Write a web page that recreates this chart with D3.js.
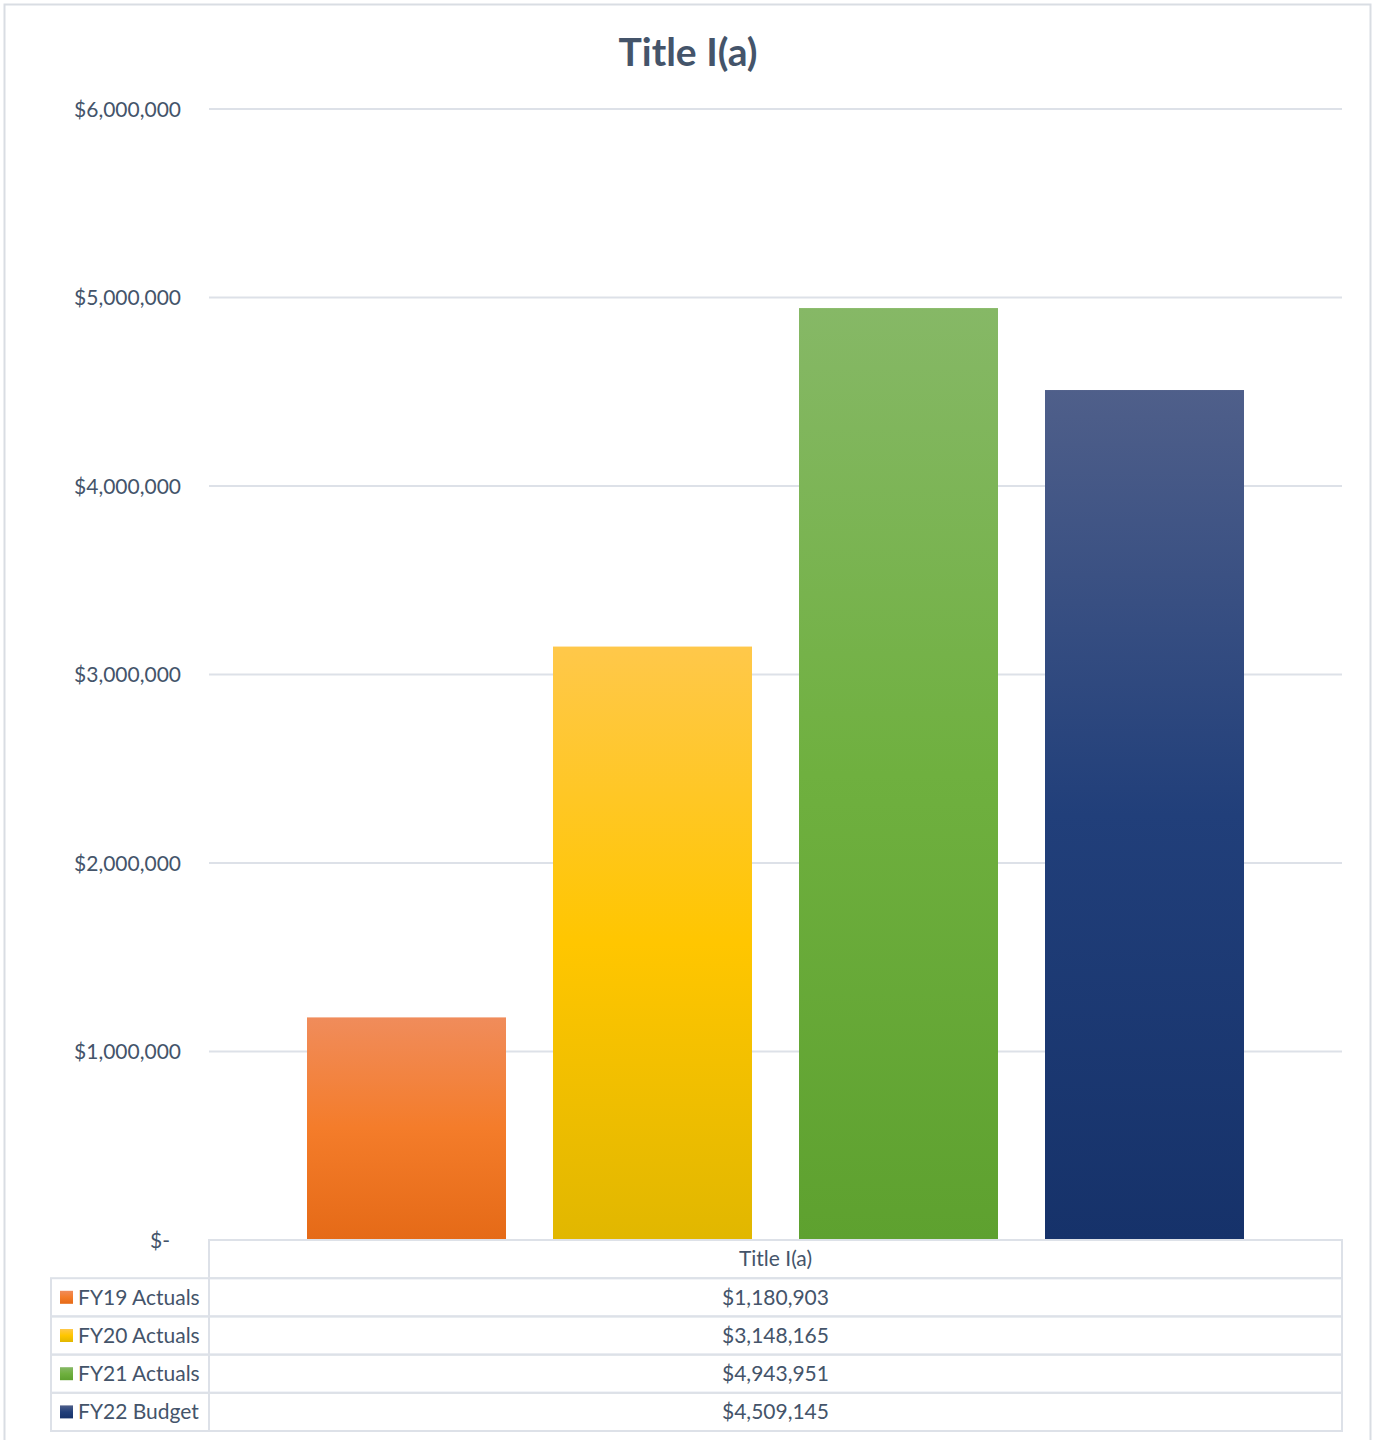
<!DOCTYPE html>
<html>
<head>
<meta charset="utf-8">
<script src="https://cdn.jsdelivr.net/npm/d3@7"></script>
<style>
  html, body { margin: 0; padding: 0; background: #fff; }
  svg { display: block; }
  text { font-family: Lato, "Open Sans", sans-serif; fill: #44546A; }
</style>
</head>
<body>
<script>
const title = "Title I(a)";
const category = "Title I(a)";
const seriesNames = ["FY19 Actuals", "FY20 Actuals", "FY21 Actuals", "FY22 Budget"];
const seriesValues = [1180903, 3148165, 4943951, 4509145];
const tickValues = [0, 1000000, 2000000, 3000000, 4000000, 5000000, 6000000];
const tickLabels = ["$-", "$1,000,000", "$2,000,000", "$3,000,000", "$4,000,000", "$5,000,000", "$6,000,000"];
const gradTop = ["#F08C5B", "#FFC84A", "#86B866", "#4F5F8A"];
const gradMid = ["#F47C2A", "#FFC600", "#6FB03F", "#213F7A"];
const gradBot = ["#E56A17", "#E1B700", "#5EA12F", "#16326A"];

const W = 1374, H = 1440;
const svg = d3.select("body").append("svg").attr("width", W).attr("height", H);

const defs = svg.append("defs");
seriesNames.forEach((s, i) => {
  const g = defs.append("linearGradient").attr("id", "g" + i)
    .attr("x1", 0).attr("y1", 0).attr("x2", 0).attr("y2", 1);
  g.append("stop").attr("offset", "0%").attr("stop-color", gradTop[i]);
  g.append("stop").attr("offset", "50%").attr("stop-color", gradMid[i]);
  g.append("stop").attr("offset", "100%").attr("stop-color", gradBot[i]);
});

// chart border
svg.append("rect").attr("x", 4.5).attr("y", 4.5).attr("width", 1366).attr("height", 1450)
  .attr("fill", "#fff").attr("stroke", "#D9DDE3").attr("stroke-width", 2);

const plotL = 209, plotR = 1342, plotT = 109, plotB = 1240;

const y = d3.scaleLinear().domain([0, 6000000]).range([plotB, plotT]);
const x0 = d3.scaleBand().domain([category]).range([plotL, plotR]).paddingInner(0).paddingOuter(0);
const x1 = d3.scaleBand().domain(seriesNames).range([plotL + 98, plotR - 98]).paddingInner(47 / 246).paddingOuter(0);

// title
svg.append("text").attr("x", 688).attr("y", 66).attr("text-anchor", "middle")
  .attr("font-size", 39).attr("font-weight", 700).text(title);

// gridlines
svg.append("g").selectAll("line").data(tickValues.filter(v => v > 0)).join("line")
  .attr("x1", plotL).attr("x2", plotR)
  .attr("y1", d => y(d)).attr("y2", d => y(d))
  .attr("stroke", "#DDE1E8").attr("stroke-width", 2);

// y axis labels
const yAxis = d3.axisLeft(y).tickValues(tickValues).tickFormat((d, i) => tickLabels[i]).tickSize(0).tickPadding(0);
const ya = svg.append("g").attr("transform", `translate(181,0)`).call(yAxis);
ya.select(".domain").remove();
ya.selectAll("text").attr("font-size", 21).attr("fill", "#44546A").attr("font-family", "Lato, 'Open Sans', sans-serif")
  .attr("dy", "0.35em")
  .attr("dx", d => d === 0 ? -11 : 0);

// bars
svg.append("g").selectAll("rect").data(seriesValues).join("rect")
  .attr("x", (d, i) => x1(seriesNames[i]))
  .attr("width", x1.bandwidth())
  .attr("y", d => y(d))
  .attr("height", d => plotB - y(d))
  .attr("fill", (d, i) => `url(#g${i})`);

// data table
const rowH = 38.2;
const tL = 51, tR = plotR;
const tbl = svg.append("g");
const lineC = "#DDE1E8";
// header row
tbl.append("rect").attr("x", plotL).attr("y", plotB).attr("width", plotR - plotL).attr("height", rowH)
  .attr("fill", "none").attr("stroke", lineC).attr("stroke-width", 2);
tbl.append("text").attr("x", x0(category) + x0.bandwidth() / 2).attr("y", plotB + rowH / 2)
  .attr("dy", "0.35em").attr("text-anchor", "middle").attr("font-size", 21).text(category);
seriesNames.forEach((s, i) => {
  const ry = plotB + rowH * (i + 1);
  tbl.append("rect").attr("x", tL).attr("y", ry).attr("width", tR - tL).attr("height", rowH)
    .attr("fill", "none").attr("stroke", lineC).attr("stroke-width", 2);
  tbl.append("line").attr("x1", plotL).attr("x2", plotL).attr("y1", ry).attr("y2", ry + rowH)
    .attr("stroke", lineC).attr("stroke-width", 2);
  tbl.append("rect").attr("x", 60).attr("y", ry + rowH / 2 - 6.5).attr("width", 13).attr("height", 13)
    .attr("fill", `url(#g${i})`);
  tbl.append("text").attr("x", 78).attr("y", ry + rowH / 2).attr("dy", "0.35em")
    .attr("font-size", 21).text(s);
  tbl.append("text").attr("x", x0(category) + x0.bandwidth() / 2).attr("y", ry + rowH / 2).attr("dy", "0.35em")
    .attr("text-anchor", "middle").attr("font-size", 21).text(d3.format("$,")(seriesValues[i]));
});
</script>
</body>
</html>
